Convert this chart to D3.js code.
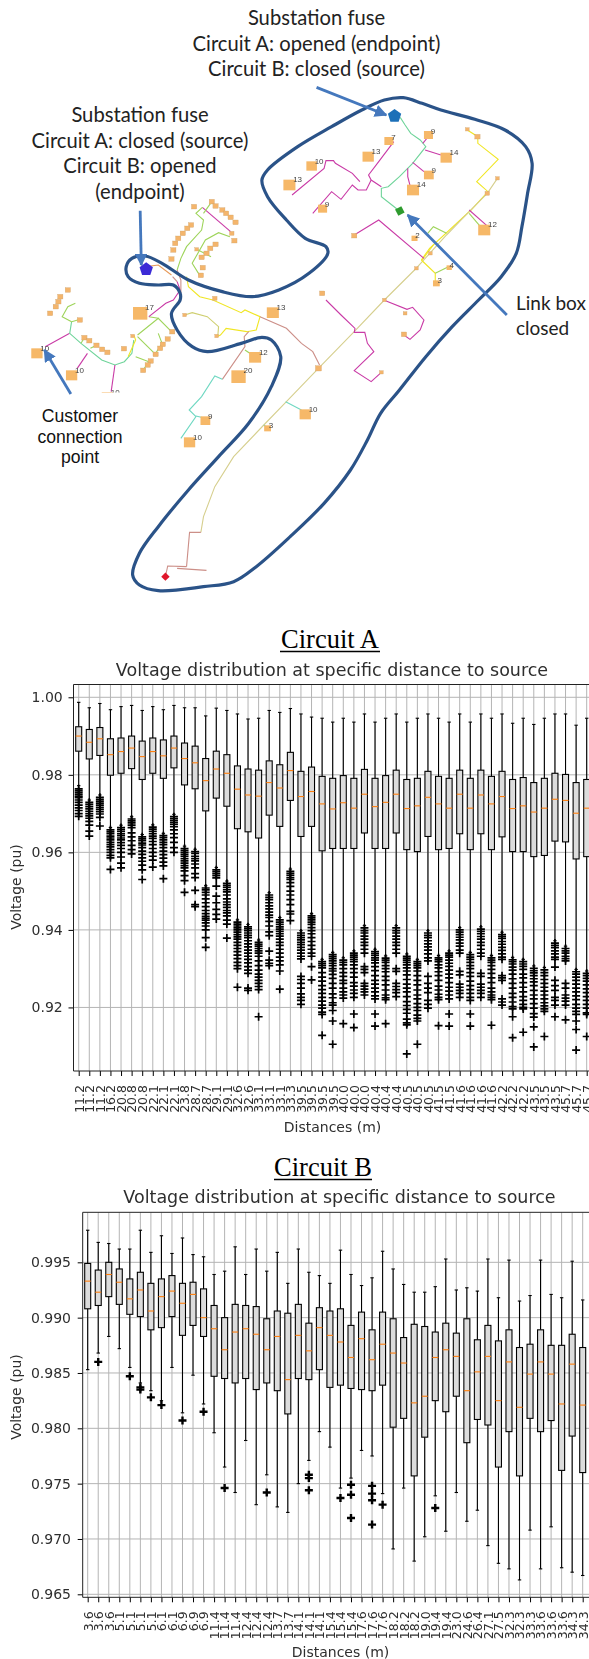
<!DOCTYPE html>
<html>
<head>
<meta charset="utf-8">
<script src="https://cdn.jsdelivr.net/npm/d3@7"></script>
<style>
  html, body { margin: 0; padding: 0; background: #fff; }
  svg { display: block; }
  .tick text { font-family: "DejaVu Sans", sans-serif; fill: #2e2e2e; }
</style>
</head>
<body>
<svg id="figure" width="589" height="1659"></svg>
<script>
'use strict';

// ---- Circuit A, one entry per distance bin ----
var labelsA = ['11.2','11.2','11.2','16.2','20.8','20.8','20.8','22.1','22.1','22.1','23.8','28.7','28.7','29.1','29.1','32.6','32.6','33.1','33.1','33.1','33.3','39.5','39.5','39.5','39.5','40.0','40.0','40.0','40.4','40.4','40.4','40.5','40.5','40.5','41.5','41.5','41.6','41.6','41.6','41.6','42.2','42.2','42.2','43.5','43.5','43.5','45.7','45.7','45.7'];
var topA = [.9987,.9973,.9984,.9968,.9976,.9979,.9966,.9976,.9968,.9979,.9973,.9973,.9952,.9972,.9966,.9957,.9944,.9946,.9966,.9961,.9971,.9957,.9949,.9946,.9936,.9946,.9936,.9957,.9936,.9946,.9957,.9936,.9946,.9957,.9946,.9936,.9957,.9936,.9957,.9946,.9957,.9933,.9946,.9930,.9946,.9957,.9957,.9928,.9946];
var q3A = [.9924,.9917,.9922,.9893,.9895,.9900,.9887,.9895,.9890,.9900,.9882,.9874,.9842,.9861,.9852,.9823,.9815,.9812,.9836,.9826,.9858,.9809,.9820,.9796,.9791,.9798,.9791,.9814,.9791,.9798,.9812,.9788,.9791,.9809,.9796,.9791,.9812,.9791,.9812,.9796,.9809,.9788,.9793,.9780,.9791,.9804,.9801,.9780,.9788];
var medianA = [.9900,.9884,.9893,.9852,.9860,.9869,.9847,.9860,.9849,.9869,.9842,.9831,.9785,.9815,.9804,.9763,.9748,.9745,.9780,.9766,.9811,.9744,.9757,.9725,.9712,.9728,.9714,.9750,.9718,.9729,.9750,.9713,.9720,.9742,.9725,.9714,.9750,.9714,.9748,.9725,.9744,.9713,.9720,.9704,.9714,.9737,.9734,.9701,.9714];
var q1A = [.9861,.9841,.9850,.9799,.9804,.9816,.9788,.9804,.9791,.9818,.9774,.9764,.9707,.9740,.9719,.9661,.9653,.9637,.9696,.9667,.9734,.9641,.9667,.9604,.9610,.9610,.9610,.9650,.9610,.9610,.9650,.9607,.9602,.9641,.9607,.9610,.9648,.9607,.9648,.9607,.9640,.9602,.9602,.9589,.9592,.9629,.9627,.9583,.9589];
var lowA = [.9772,.9735,.9748,.9664,.9670,.9692,.9646,.9671,.9649,.9698,.9616,.9608,.9514,.9561,.9526,.9426,.9414,.9374,.9496,.9432,.9557,.9398,.9442,.9324,.9342,.9328,.9346,.9411,.9350,.9333,.9411,.9338,.9324,.9398,.9334,.9346,.9406,.9342,.9408,.9334,.9394,.9329,.9324,.9307,.9303,.9372,.9358,.9298,.9294];
var outliersA = [
  [.9764,.9759,.9755,.9750,.9745,.9741,.9735,.9729,.9722,.9715,.9708,.9700,.9693],
  [.9729,.9724,.9718,.9712,.9706,.9700,.9694,.9688,.9680,.9670,.9655,.9642],
  [.9742,.9737,.9732,.9727,.9722,.9716,.9711,.9705,.9699,.9690,.9668],
  [.9658,.9653,.9648,.9642,.9637,.9632,.9626,.9620,.9614,.9607,.9600,.9592,.9586,.9556],
  [.9664,.9659,.9654,.9648,.9643,.9637,.9632,.9625,.9618,.9610,.9600,.9588,.9572,.9560],
  [.9686,.9681,.9676,.9670,.9664,.9650,.9640,.9630,.9618,.9607,.9596],
  [.9640,.9635,.9630,.9624,.9619,.9612,.9603,.9595,.9586,.9577,.9567,.9555,.9530],
  [.9665,.9660,.9654,.9648,.9642,.9636,.9628,.9620,.9610,.9600,.9590,.9580,.9562],
  [.9643,.9638,.9632,.9626,.9620,.9612,.9603,.9594,.9585,.9575,.9565,.9532],
  [.9692,.9687,.9682,.9677,.9672,.9666,.9658,.9648,.9638,.9626,.9612,.9600],
  [.9610,.9605,.9600,.9595,.9590,.9584,.9578,.9572,.9566,.9560,.9552,.9540,.9527,.9497],
  [.9602,.9597,.9590,.9584,.9578,.9570,.9560,.9545,.9535,.9502,.9465,.9460],
  [.9508,.9503,.9497,.9490,.9480,.9470,.9460,.9450,.9442,.9435,.9430,.9425,.9418,.9410,.9400,.9380,.9355],
  [.9555,.9550,.9545,.9540,.9534,.9513,.9487,.9470,.9453,.9440,.9428],
  [.9520,.9515,.9510,.9504,.9498,.9490,.9480,.9472,.9465,.9458,.9450,.9444,.9436,.9425,.9415,.9379],
  [.9420,.9415,.9410,.9405,.9400,.9394,.9388,.9382,.9376,.9368,.9360,.9352,.9344,.9335,.9326,.9316,.9308,.9300,.9252],
  [.9408,.9403,.9398,.9392,.9386,.9380,.9372,.9364,.9356,.9348,.9340,.9332,.9324,.9315,.9305,.9296,.9288,.9250,.9244],
  [.9368,.9363,.9358,.9352,.9346,.9340,.9332,.9320,.9308,.9296,.9286,.9278,.9270,.9262,.9254,.9246,.9176],
  [.9490,.9484,.9478,.9470,.9462,.9454,.9446,.9438,.9432,.9422,.9410,.9395,.9385,.9345,.9322,.9314,.9308],
  [.9426,.9420,.9414,.9408,.9402,.9396,.9390,.9384,.9376,.9368,.9360,.9350,.9340,.9330,.9320,.9310,.9294,.9247],
  [.9551,.9546,.9541,.9535,.9530,.9522,.9512,.9500,.9490,.9478,.9465,.9448,.9441,.9424],
  [.9392,.9386,.9380,.9374,.9368,.9362,.9355,.9348,.9340,.9332,.9325,.9280,.9272,.9262,.9250,.9235,.9226,.9218,.9208],
  [.9436,.9431,.9426,.9420,.9414,.9406,.9398,.9390,.9380,.9370,.9360,.9350,.9340,.9332,.9305,.9271],
  [.9318,.9313,.9308,.9302,.9290,.9278,.9268,.9256,.9246,.9236,.9226,.9216,.9206,.9198,.9188,.9182,.9128],
  [.9336,.9331,.9326,.9320,.9314,.9308,.9300,.9294,.9285,.9275,.9262,.9250,.9235,.9225,.9212,.9206,.9192,.9165,.9105],
  [.9322,.9316,.9310,.9300,.9290,.9280,.9270,.9262,.9250,.9240,.9232,.9224,.9158],
  [.9340,.9335,.9330,.9324,.9318,.9310,.9300,.9290,.9278,.9264,.9255,.9245,.9236,.9226,.9183,.9148],
  [.9405,.9398,.9392,.9384,.9376,.9368,.9360,.9350,.9340,.9305,.9298,.9290,.9262,.9255,.9247,.9240,.9232],
  [.9344,.9339,.9334,.9328,.9322,.9315,.9305,.9295,.9282,.9270,.9260,.9250,.9240,.9230,.9222,.9183,.9152],
  [.9327,.9322,.9316,.9308,.9300,.9292,.9280,.9270,.9258,.9245,.9232,.9225,.9220,.9158],
  [.9405,.9398,.9392,.9384,.9376,.9368,.9360,.9350,.9340,.9300,.9293,.9262,.9254,.9246,.9238,.9228],
  [.9332,.9327,.9322,.9316,.9310,.9302,.9294,.9284,.9272,.9260,.9250,.9240,.9228,.9215,.9205,.9195,.9185,.9170,.9160,.9155,.9080],
  [.9318,.9313,.9308,.9302,.9294,.9282,.9270,.9258,.9245,.9232,.9222,.9210,.9200,.9192,.9180,.9172,.9165,.9105],
  [.9392,.9386,.9380,.9372,.9364,.9356,.9348,.9338,.9328,.9320,.9280,.9262,.9250,.9238,.9218,.9208,.9198],
  [.9328,.9323,.9318,.9310,.9302,.9292,.9282,.9270,.9255,.9245,.9234,.9226,.9220,.9153],
  [.9340,.9335,.9330,.9322,.9314,.9306,.9296,.9286,.9276,.9264,.9252,.9242,.9232,.9222,.9183,.9152],
  [.9400,.9394,.9388,.9381,.9374,.9366,.9358,.9348,.9340,.9293,.9284,.9260,.9252,.9244,.9236,.9226],
  [.9336,.9330,.9324,.9316,.9308,.9300,.9290,.9280,.9268,.9256,.9246,.9236,.9226,.9218,.9183,.9152],
  [.9402,.9396,.9390,.9383,.9376,.9368,.9360,.9350,.9340,.9332,.9288,.9280,.9260,.9252,.9244,.9236,.9226],
  [.9328,.9322,.9316,.9308,.9298,.9288,.9276,.9264,.9250,.9240,.9232,.9226,.9220,.9154],
  [.9388,.9383,.9378,.9370,.9363,.9355,.9347,.9338,.9330,.9324,.9282,.9276,.9270,.9222,.9214,.9206],
  [.9323,.9318,.9312,.9304,.9296,.9286,.9274,.9262,.9250,.9236,.9226,.9214,.9202,.9196,.9176,.9122],
  [.9318,.9312,.9306,.9298,.9286,.9276,.9264,.9252,.9240,.9228,.9218,.9208,.9200,.9196,.9136],
  [.9301,.9295,.9289,.9282,.9274,.9266,.9256,.9244,.9232,.9222,.9210,.9198,.9184,.9175,.9150,.9098],
  [.9297,.9290,.9282,.9272,.9262,.9252,.9242,.9232,.9222,.9212,.9204,.9196,.9190,.9125],
  [.9366,.9360,.9354,.9346,.9338,.9330,.9324,.9304,.9270,.9256,.9244,.9226,.9218,.9206,.9176],
  [.9352,.9346,.9340,.9332,.9326,.9320,.9262,.9250,.9232,.9224,.9216,.9206,.9168],
  [.9292,.9286,.9278,.9270,.9260,.9250,.9240,.9230,.9220,.9208,.9198,.9190,.9182,.9165,.9143,.9090],
  [.9288,.9282,.9275,.9268,.9258,.9248,.9238,.9228,.9218,.9208,.9198,.9186,.9182,.9125]
];
var ticksA = [.92,.94,.96,.98,1.00];

// ---- Circuit B, last bin sits past the page edge so it has no readable label ----
var labelsB = ['3.6','3.6','3.6','5.1','5.1','5.1','5.1','6.1','6.1','6.9','6.9','6.9','11.4','11.4','11.4','12.4','12.4','12.4','13.7','13.7','14.1','14.1','14.1','15.4','15.4','15.4','17.6','17.6','17.6','18.2','18.2','18.2','19.0','19.4','19.4','23.0','24.6','26.4','27.1','27.5','32.3','32.3','33.3','33.6','33.6','33.6','34.3','34.3',''];
var topB = [.9979,.9968,.9967,.9962,.9962,.9979,.9959,.9974,.9958,.9972,.9957,.9955,.9939,.9942,.9964,.9939,.9962,.9942,.9959,.9931,.9962,.9941,.9938,.9931,.9961,.9939,.9929,.9936,.9960,.9944,.9930,.9923,.9923,.9928,.9953,.9925,.9927,.9924,.9953,.9918,.9952,.9915,.9920,.9952,.9921,.9918,.9951,.9916,.9925];
var q3B = [.9949,.9943,.9950,.9944,.9935,.9941,.9931,.9935,.9938,.9931,.9932,.9926,.9911,.9900,.9912,.9911,.9910,.9899,.9906,.9904,.9912,.9895,.9909,.9906,.9908,.9893,.9905,.9889,.9905,.9899,.9882,.9894,.9892,.9887,.9895,.9886,.9899,.9880,.9893,.9879,.9889,.9873,.9876,.9889,.9875,.9875,.9885,.9873,.9878];
var medianB = [.9933,.9923,.9939,.9932,.9917,.9925,.9906,.9919,.9924,.9913,.9921,.9900,.9890,.9871,.9887,.9890,.9885,.9871,.9883,.9844,.9884,.9870,.9891,.9884,.9878,.9864,.9881,.9862,.9876,.9868,.9859,.9823,.9829,.9864,.9871,.9865,.9834,.9851,.9865,.9825,.9860,.9819,.9849,.9860,.9849,.9822,.9858,.9821,.9850];
var q1B = [.9908,.9911,.9919,.9912,.9903,.9901,.9889,.9891,.9901,.9884,.9893,.9883,.9847,.9845,.9841,.9845,.9835,.9841,.9834,.9813,.9845,.9844,.9853,.9837,.9839,.9836,.9835,.9834,.9839,.9801,.9809,.9757,.9792,.9825,.9815,.9829,.9787,.9808,.9803,.9765,.9797,.9757,.9809,.9797,.9807,.9762,.9793,.9760,.9790];
var lowB = [.9853,.9868,.9883,.9872,.9855,.9841,.9834,.9825,.9855,.9814,.9848,.9822,.9796,.9765,.9742,.9789,.9731,.9758,.9729,.9724,.9750,.9771,.9797,.9783,.9746,.9755,.9780,.9775,.9741,.9691,.9746,.9680,.9702,.9739,.9707,.9742,.9716,.9726,.9694,.9678,.9673,.9663,.9708,.9673,.9711,.9674,.9670,.9667,.9680];
var outliersB = [[],[.9860],[],[],[.9847],[.9837,.9835],[.9828],[.9821],[],[.9807],[],[.9815],[],[.9746],[],[],[],[.9742],[],[],[],[.9758,.9755,.9744],[],[],[.9737],[.9749,.9740,.9719],[],[.9748,.9741,.9735,.9713],[.9731],[],[],[],[],[.9728],[],[],[],[],[],[],[],[],[],[],[],[],[],[],[.9702]];
var ticksB = [.965,.970,.975,.980,.985,.990,.995];

// ---- Feeder map, positions are map units (see mapX / mapY) ----
var outlinePoints = [[1070,293],[1120,310],[1170,330],[1260,358],[1340,390],[1395,440],[1412,490],[1400,580],[1385,680],[1370,760],[1330,830],[1270,900],[1200,980],[1130,1070],[1060,1170],[1010,1240],[975,1320],[930,1410],[860,1510],[770,1610],[680,1700],[620,1745],[540,1760],[420,1772],[370,1755],[352,1725],[370,1660],[420,1580],[500,1470],[580,1370],[660,1270],[720,1160],[745,1070],[720,1020],[695,1012],[640,1030],[550,1055],[510,1040],[470,990],[455,940],[478,900],[478,880],[460,855],[420,855],[370,850],[340,830],[335,800],[350,775],[385,768],[430,790],[500,840],[590,875],[670,890],[740,870],[820,820],[870,760],[865,740],[810,715],[760,660],[710,590],[695,540],[710,510],[790,440],[880,380],[960,330],[1020,300]];
var teal = '#6fd49a', magenta = '#c93aa6', tan = '#d6cf8e', rosy = '#cc8f88', yellow = '#f0e624', green = '#9ed45a', aqua = '#6fd8c2';
var feederColors = [teal, magenta, magenta, magenta, magenta, magenta, magenta, magenta, yellow, tan, rosy, rosy, rosy, magenta, green, green, yellow, green, yellow, magenta, magenta, magenta, aqua, aqua, '#e79a5a', yellow, '#cfcf70', rosy, rosy, green, aqua, aqua, magenta, teal, magenta, magenta, green, green, green, green, yellow, green, green, green, green, green, magenta, green, green, green, green, magenta, rosy, rosy];
var feederPoints = [
  [[1062,352],[1075,375],[1090,400],[1115,420],[1130,440],[1095,490],[1060,530],[1030,560],[1012,565],[1012,590],[1040,615],[1060,633]],
  [[1128,450],[1170,465]],
  [[1095,487],[1125,515]],
  [[1082,505],[1082,530],[1090,565]],
  [[1122,430],[1140,405]],
  [[1045,425],[1005,485],[978,525],[985,540],[1012,560]],
  [[985,540],[972,570],[950,570],[935,555],[905,598],[880,575],[830,640]],
  [[955,545],[935,520],[890,490],[885,482],[865,482],[860,505],[775,585]],
  [[1240,390],[1268,410],[1268,430],[1322,478],[1265,545],[1295,575],[1250,630],[1140,745],[1118,780]],
  [[1320,535],[1293,580],[1245,635],[1185,705],[1100,810],[1020,900],[940,995],[845,1105],[760,1205],[700,1275],[620,1370],[570,1460],[540,1550],[533,1597]],
  [[533,1597],[503,1597],[495,1700]],
  [[495,1700],[445,1698],[440,1725]],
  [[470,1705],[548,1711]],
  [[1245,630],[1295,680]],
  [[1245,640],[1275,680]],
  [[1185,700],[1150,680],[1135,700]],
  [[1118,780],[1155,820],[1155,845]],
  [[1155,820],[1190,800]],
  [[1150,735],[1120,780]],
  [[940,705],[1005,660],[1125,775]],
  [[1018,900],[1080,928],[1095,922],[1125,960],[1115,990],[1088,1018],[1072,1005]],
  [[865,900],[905,945],[942,985],[940,997],[968,997],[975,1030],[992,1055],[940,1112],[985,1145],[1012,1117]],
  [[758,1205],[800,1230]],
  [[700,1275],[712,1285]],
  [[388,800],[420,795],[455,825]],
  [[495,830],[500,860],[530,890],[565,900],[640,938],[650,930],[690,950],[680,990],[655,995],[600,985],[585,1005],[575,1010]],
  [[490,945],[510,938],[550,950],[580,980],[578,1008]],
  [[690,950],[760,985],[800,1030],[830,1055],[848,1095]],
  [[660,995],[648,1010],[650,1040],[590,1138]],
  [[650,1050],[670,1065]],
  [[590,1138],[570,1128],[535,1190],[502,1230],[520,1250],[480,1315]],
  [[520,1248],[545,1255]],
  [[185,1000],[120,1040]],
  [[190,965],[185,1000],[215,1030],[270,1080],[305,1095],[330,1085],[350,1060],[355,1020]],
  [[305,1095],[295,1175]],
  [[232,1060],[205,1105]],
  [[190,965],[165,950],[180,920],[200,910]],
  [[190,965],[213,958]],
  [[215,1030],[224,1013]],
  [[240,1045],[256,1036]],
  [[340,1070],[360,1020],[355,1005]],
  [[365,1005],[420,955],[455,995]],
  [[395,950],[420,955]],
  [[365,1010],[410,1060]],
  [[420,1000],[430,1030],[410,1065]],
  [[360,1070],[395,1085],[380,1110]],
  [[537,622],[612,695]],
  [[537,622],[520,640],[540,660],[535,690],[495,740],[480,775],[470,810]],
  [[610,710],[580,698],[545,720],[510,790],[530,826]],
  [[522,748],[560,770]],
  [[540,640],[562,605]],
  [[470,845],[478,870],[460,900],[440,910],[395,950]],
  [[470,810],[480,840],[480,880]],
  [[458,830],[470,845]]
];
var homeX = [1137,1032,977,1184,827,1138,768,1096,856,1285,1100,1158,1192,372,724,677,633,545,503,810,710,98,190,285];
var homeY = [405,423,470,473,498,525,555,570,626,690,715,850,803,940,938,1072,1130,1262,1327,1243,1285,1060,1126,1191];
var homeSize = [24,24,30,30,28,26,32,32,24,32,16,18,14,38,32,32,38,26,30,30,18,30,30,30];
var homeLabel = ['9','7','13','14','10','9','13','14','9','12','2','3','4','17','13','12','20','9','10','10','3','10','10','10'];
var stubX = [515,562,572,590,600,612,625,615,507,497,485,473,465,460,572,558,548,535,522,538,533,622,455,570,133,148,155,180,160,212,224,237,256,271,285,329,352,457,445,432,425,413,400,392,380,490,575,1075,1072,1012,845,1142,1105,1267,1240,1320,1293,940,855,1020];
var stubY = [620,605,618,630,640,652,667,700,675,685,700,715,730,750,733,745,760,772,748,803,826,722,777,895,940,920,905,870,890,960,1013,1022,1036,1048,1057,1046,1008,995,1017,1033,1045,1063,1083,1095,1111,945,1008,940,1003,1117,1105,760,805,410,388,535,580,707,880,900];
var stubSize = [14,14,14,14,14,14,14,12,14,14,14,14,14,14,14,14,14,14,10,14,14,14,14,12,14,14,14,14,14,14,14,14,14,14,14,14,10,14,14,14,14,14,14,14,14,10,10,10,14,10,16,10,10,14,10,10,12,14,14,10];

// ---- Drawing ----
var svg = d3.select('#figure');

var defs = svg.append('defs');
defs.append('marker').attr('id', 'arrowhead')
    .attr('viewBox', '0 0 10 10').attr('refX', 9).attr('refY', 5)
    .attr('markerWidth', 4.5).attr('markerHeight', 4.5).attr('orient', 'auto')
  .append('path').attr('d', 'M0,0L10,5L0,10z').attr('fill', '#4478bd');
var soften = defs.append('filter').attr('id', 'soften');
soften.append('feGaussianBlur').attr('stdDeviation', 0.35);

var mapX = d3.scaleLinear().domain([0, 1563]).range([0, 589]);
var mapY = d3.scaleLinear().domain([0, 1800]).range([0, 600]);
var mapLine = d3.line().x(function(d) { return mapX(d[0]); }).y(function(d) { return mapY(d[1]); });

var map = svg.append('g').attr('filter', 'url(#soften)');

map.selectAll('path.feeder').data(feederPoints).enter().append('path')
    .attr('class', 'feeder')
    .attr('d', function(d) { return mapLine(d); })
    .attr('fill', 'none')
    .attr('stroke', function(d, i) { return feederColors[i]; })
    .attr('stroke-width', 1.1);

map.selectAll('rect.stub').data(stubX).enter().append('rect')
    .attr('class', 'stub')
    .attr('x', function(d, i) { return mapX(d - stubSize[i] / 2); })
    .attr('y', function(d, i) { return mapY(stubY[i] - stubSize[i] / 2); })
    .attr('width', function(d, i) { return mapX(stubSize[i]); })
    .attr('height', function(d, i) { return mapY(stubSize[i]); })
    .attr('fill', '#f4b56c').attr('stroke', '#c9a06a').attr('stroke-width', 0.3);

map.selectAll('rect.home').data(homeX).enter().append('rect')
    .attr('class', 'home')
    .attr('x', function(d, i) { return mapX(d - homeSize[i] / 2); })
    .attr('y', function(d, i) { return mapY(homeY[i] - homeSize[i] / 2); })
    .attr('width', function(d, i) { return mapX(homeSize[i]); })
    .attr('height', function(d, i) { return mapY(homeSize[i]); })
    .attr('fill', '#f6b868');

map.selectAll('text.home').data(homeX).enter().append('text')
    .attr('class', 'home')
    .attr('x', function(d, i) { return mapX(d + homeSize[i] / 2 - 6); })
    .attr('y', function(d, i) { return mapY(homeY[i] - homeSize[i] / 2 + 8); })
    .attr('font-family', '"Liberation Sans", sans-serif').attr('font-size', 8).attr('fill', '#444')
    .text(function(d, i) { return homeLabel[i]; });

map.append('path')
    .attr('d', d3.line().x(function(d) { return mapX(d[0]); }).y(function(d) { return mapY(d[1]); })
      .curve(d3.curveCatmullRomClosed)(outlinePoints))
    .attr('fill', 'none').attr('stroke', '#2c5288').attr('stroke-width', 3.2);

// switches on the feeder
function polygonPath(cx, cy, radius, sides, turn) {
  var pts = d3.range(sides).map(function(k) {
    var a = turn + k * 2 * Math.PI / sides;
    return [mapX(cx) + radius * Math.sin(a), mapY(cy) - radius * Math.cos(a)];
  });
  return 'M' + pts.join('L') + 'Z';
}
map.append('path').attr('d', polygonPath(1047, 348, 7, 5, 0)).attr('fill', '#1b6fb8');
map.append('path').attr('d', polygonPath(388, 808, 7, 5, 0)).attr('fill', '#3a2bd6');
map.append('path').attr('d', polygonPath(1061, 633, 5, 4, 0.3)).attr('fill', '#2f9b2f');
map.append('path').attr('d', polygonPath(439, 1730, 4.2, 4, 0)).attr('fill', '#e0122c');

// white backing of the customer note clips the label behind it
map.append('rect').attr('x', 0).attr('y', 392.5).attr('width', 140).attr('height', 80).attr('fill', '#fff');

var arrowStart = [[840,262],[372,632],[1345,945],[188,1182]];
var arrowEnd = [[1025,345],[375,795],[1082,645],[118,1050]];
map.selectAll('line.arrow').data(arrowStart).enter().append('line')
    .attr('class', 'arrow')
    .attr('x1', function(d) { return mapX(d[0]); })
    .attr('y1', function(d) { return mapY(d[1]); })
    .attr('x2', function(d, i) { return mapX(arrowEnd[i][0]); })
    .attr('y2', function(d, i) { return mapY(arrowEnd[i][1]); })
    .attr('stroke', '#4478bd').attr('stroke-width', 2.8)
    .attr('marker-end', 'url(#arrowhead)');

function note(lines, x, baselines, anchor, family, size, fill) {
  svg.append('g').selectAll('text').data(lines).enter().append('text')
      .attr('x', x)
      .attr('y', function(d, i) { return baselines[i]; })
      .attr('text-anchor', anchor)
      .attr('font-family', family).attr('font-size', size).attr('fill', fill)
      .text(function(d) { return d; });
}
var noteA = ['Substation fuse', 'Circuit A: opened (endpoint)', 'Circuit B: closed (source)'];
var noteB = ['Substation fuse', 'Circuit A: closed (source)', 'Circuit B: opened', '(endpoint)'];
note(noteA, 316.5, [25, 51, 76], 'middle', 'Lato, sans-serif', 20.2, '#222');
note(noteB, 140, [122, 148, 173, 199], 'middle', 'Lato, sans-serif', 20.2, '#222');
note(['Link box', 'closed'], 516, [310, 335], 'start', 'Lato, sans-serif', 19, '#222');
note(['Customer', 'connection', 'point'], 80, [422, 443, 463], 'middle', '"Liberation Sans", sans-serif', 17.6, '#111');

function boxChart(opt) {
  var xScale = d3.scaleLinear().domain(opt.xDomain).range(opt.xRange);
  var yScale = d3.scaleLinear().domain(opt.yDomain).range(opt.yRange);
  var left = opt.left, right = 600, top = opt.yRange[1], bottom = opt.yRange[0];
  var indexes = d3.range(opt.labels.length);
  var g = svg.append('g').attr('filter', 'url(#soften)');

  // grid goes first so that the boxes sit on it
  g.selectAll('line.gridx').data(indexes).enter().append('line')
      .attr('x1', function(d) { return xScale(d); }).attr('x2', function(d) { return xScale(d); })
      .attr('y1', top).attr('y2', bottom)
      .attr('stroke', '#b4b4b4').attr('stroke-width', 1);
  g.selectAll('line.gridy').data(opt.ticks).enter().append('line')
      .attr('x1', left).attr('x2', right)
      .attr('y1', function(d) { return yScale(d); }).attr('y2', function(d) { return yScale(d); })
      .attr('stroke', '#b4b4b4').attr('stroke-width', 1);

  var xAxis = d3.axisBottom(xScale).tickValues(indexes).tickSize(5)
      .tickFormat(function(d) { return opt.labels[d]; });
  var xg = g.append('g').attr('transform', 'translate(0,' + bottom + ')').call(xAxis);
  xg.select('.domain').remove();
  xg.selectAll('.tick text')
      .attr('transform', 'rotate(-90)')
      .attr('x', -14).attr('y', 0).attr('dy', '0.35em')
      .attr('text-anchor', 'end').attr('font-size', 12.5);

  var yAxis = d3.axisLeft(yScale).tickValues(opt.ticks).tickSize(5).tickPadding(opt.tickPad)
      .tickFormat(d3.format(opt.tickFormat));
  var yg = g.append('g').attr('transform', 'translate(' + left + ',0)').call(yAxis);
  yg.select('.domain').remove();
  yg.selectAll('.tick text').attr('font-size', 14);

  var boxes = g.selectAll('g.box').data(indexes).enter().append('g').attr('class', 'box');
  function vline(sel, from, to) {
    return sel.append('line')
        .attr('x1', function(d) { return xScale(d); }).attr('x2', function(d) { return xScale(d); })
        .attr('y1', function(d) { return yScale(from[d]); }).attr('y2', function(d) { return yScale(to[d]); })
        .attr('stroke', '#000').attr('stroke-width', 1.1);
  }
  function cap(sel, at) {
    return sel.append('line')
        .attr('x1', function(d) { return xScale(d) - 1.7; }).attr('x2', function(d) { return xScale(d) + 1.7; })
        .attr('y1', function(d) { return yScale(at[d]); }).attr('y2', function(d) { return yScale(at[d]); })
        .attr('stroke', '#000').attr('stroke-width', 1.1);
  }
  vline(boxes, opt.top, opt.q3);
  vline(boxes, opt.q1, opt.low);
  cap(boxes, opt.top);
  cap(boxes, opt.low);
  boxes.append('rect')
      .attr('x', function(d) { return xScale(d) - 3; })
      .attr('width', 6)
      .attr('y', function(d) { return yScale(opt.q3[d]); })
      .attr('height', function(d) { return yScale(opt.q1[d]) - yScale(opt.q3[d]); })
      .attr('fill', '#dcdcdc').attr('stroke', '#000').attr('stroke-width', 1.1);
  boxes.append('line')
      .attr('x1', function(d) { return xScale(d) - 3; }).attr('x2', function(d) { return xScale(d) + 3; })
      .attr('y1', function(d) { return yScale(opt.median[d]); }).attr('y2', function(d) { return yScale(opt.median[d]); })
      .attr('stroke', '#ff7f0e').attr('stroke-width', 1.1);

  boxes.selectAll('path.flier')
      .data(function(d) { return opt.outliers[d].map(function(v) { return [d, v]; }); })
      .enter().append('path')
      .attr('class', 'flier')
      .attr('d', function(d) {
        var cx = xScale(d[0]), cy = yScale(d[1]);
        return 'M' + (cx - 4) + ',' + cy + 'H' + (cx + 4) + 'M' + cx + ',' + (cy - 4) + 'V' + (cy + 4);
      })
      .attr('fill', 'none').attr('stroke', '#000').attr('stroke-width', opt.flierWidth);

  // spines, the right one is past the page edge
  g.append('path')
      .attr('d', 'M' + right + ',' + top + 'H' + left + 'V' + bottom + 'H' + right)
      .attr('fill', 'none').attr('stroke', '#222').attr('stroke-width', 1);

  g.append('text').attr('x', opt.titleX).attr('y', top - 9)
      .attr('text-anchor', 'middle').attr('font-family', '"DejaVu Sans", sans-serif')
      .attr('font-size', 17.5).attr('fill', '#2e2e2e')
      .text('Voltage distribution at specific distance to source');
  g.append('text').attr('x', opt.xLabelX).attr('y', opt.xLabelY)
      .attr('text-anchor', 'middle').attr('font-family', '"DejaVu Sans", sans-serif')
      .attr('font-size', 14).attr('fill', '#2e2e2e').text('Distances (m)');
  g.append('text').attr('transform', 'translate(21,' + opt.yLabelY + ') rotate(-90)')
      .attr('text-anchor', 'middle').attr('font-family', '"DejaVu Sans", sans-serif')
      .attr('font-size', 14).attr('fill', '#2e2e2e').text('Voltage (pu)');

  // the heading above the axes, underlined by hand to place the rule
  svg.append('text').attr('x', opt.headX).attr('y', opt.headY)
      .attr('text-anchor', 'middle').attr('font-family', '"Liberation Serif", serif')
      .attr('font-size', 26.5).attr('fill', '#000').text(opt.head);
  svg.append('line').attr('x1', opt.headRule[0]).attr('x2', opt.headRule[1])
      .attr('y1', opt.headY + 3.5).attr('y2', opt.headY + 3.5)
      .attr('stroke', '#000').attr('stroke-width', 1.4);
}

boxChart({
  labels: labelsA, top: topA, q3: q3A, median: medianA, q1: q1A, low: lowA, outliers: outliersA,
  ticks: ticksA, tickFormat: '.2f', flierWidth: 1.7, tickPad: 5.8,
  xDomain: [0, 48], xRange: [78.7, 586.7],
  yDomain: [.9036, 1.0033], yRange: [1071, 684.5],
  left: 73.5, titleX: 332, xLabelX: 332.5, xLabelY: 1131.5, yLabelY: 887,
  head: 'Circuit A', headX: 330, headY: 648, headRule: [280, 380]
});

boxChart({
  labels: labelsB, top: topB, q3: q3B, median: medianB, q1: q1B, low: lowB, outliers: outliersB,
  ticks: ticksB, tickFormat: '.3f', flierWidth: 2.4, tickPad: 6.7,
  xDomain: [0, 47], xRange: [87.7, 582.7],
  yDomain: [.96473, .99952], yRange: [1597.3, 1212.3],
  left: 82.7, titleX: 339.5, xLabelX: 340.5, xLabelY: 1656.5, yLabelY: 1397,
  head: 'Circuit B', headX: 323, headY: 1176, headRule: [274, 372]
});
</script>
</body>
</html>
